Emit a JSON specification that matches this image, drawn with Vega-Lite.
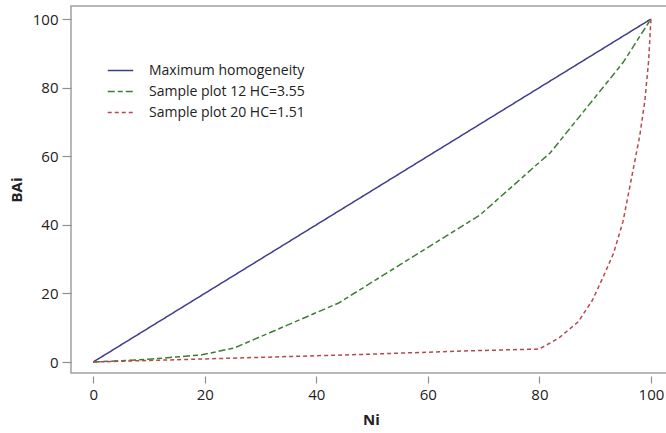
{
  "$schema": "https://vega.github.io/schema/vega-lite/v6.json",
  "width": 600,
  "height": 367,
  "autosize": {"type": "none"},
  "padding": {"left": 71, "top": 6, "right": 0, "bottom": 60},
  "background": "white",
  "config": {
    "view": {"stroke": "#a0a0a0", "strokeWidth": 1.5},
    "font": "Open Sans",
    "axis": {"labelFont": "Open Sans", "titleFont": "Open Sans", "labelColor": "#222", "titleColor": "#222", "labelFontSize": 15, "titleFontSize": 15, "titleFontWeight": "bold", "grid": false, "domain": false, "tickColor": "#909090", "tickWidth": 1.2}
  },
  "data": {
    "values": [
      {"series": "Maximum homogeneity", "Ni": 0, "BAi": 0},
      {"series": "Maximum homogeneity", "Ni": 100, "BAi": 100},
      {"series": "Sample plot 12 HC=3.55", "Ni": 0, "BAi": 0},
      {"series": "Sample plot 12 HC=3.55", "Ni": 10, "BAi": 0.8},
      {"series": "Sample plot 12 HC=3.55", "Ni": 19.5, "BAi": 2.1},
      {"series": "Sample plot 12 HC=3.55", "Ni": 25.3, "BAi": 4.1},
      {"series": "Sample plot 12 HC=3.55", "Ni": 44, "BAi": 17.2},
      {"series": "Sample plot 12 HC=3.55", "Ni": 69.3, "BAi": 42.8},
      {"series": "Sample plot 12 HC=3.55", "Ni": 82, "BAi": 61.1},
      {"series": "Sample plot 12 HC=3.55", "Ni": 95, "BAi": 87.3},
      {"series": "Sample plot 12 HC=3.55", "Ni": 100, "BAi": 100},
      {"series": "Sample plot 20 HC=1.51", "Ni": 0, "BAi": 0},
      {"series": "Sample plot 20 HC=1.51", "Ni": 20, "BAi": 0.9},
      {"series": "Sample plot 20 HC=1.51", "Ni": 48, "BAi": 2.2},
      {"series": "Sample plot 20 HC=1.51", "Ni": 66, "BAi": 3.2},
      {"series": "Sample plot 20 HC=1.51", "Ni": 80, "BAi": 3.8},
      {"series": "Sample plot 20 HC=1.51", "Ni": 83.5, "BAi": 7},
      {"series": "Sample plot 20 HC=1.51", "Ni": 87, "BAi": 11.8},
      {"series": "Sample plot 20 HC=1.51", "Ni": 89.5, "BAi": 18},
      {"series": "Sample plot 20 HC=1.51", "Ni": 91.5, "BAi": 25},
      {"series": "Sample plot 20 HC=1.51", "Ni": 93.3, "BAi": 31.7},
      {"series": "Sample plot 20 HC=1.51", "Ni": 95, "BAi": 41},
      {"series": "Sample plot 20 HC=1.51", "Ni": 96.8, "BAi": 56},
      {"series": "Sample plot 20 HC=1.51", "Ni": 98, "BAi": 66},
      {"series": "Sample plot 20 HC=1.51", "Ni": 98.9, "BAi": 76},
      {"series": "Sample plot 20 HC=1.51", "Ni": 99.6, "BAi": 88},
      {"series": "Sample plot 20 HC=1.51", "Ni": 100, "BAi": 100}
    ]
  },
  "mark": {"type": "line", "strokeWidth": 1.5},
  "encoding": {
    "x": {"field": "Ni", "type": "quantitative", "scale": {"domain": [-3.98, 103.6], "nice": false, "zero": false}, "axis": {"values": [0, 20, 40, 60, 80, 100], "title": "Ni", "offset": 3, "tickSize": 7, "labelPadding": 4, "titlePadding": 10}},
    "y": {"field": "BAi", "type": "quantitative", "scale": {"domain": [-3.2, 103.8], "nice": false, "zero": false}, "axis": {"values": [0, 20, 40, 60, 80, 100], "title": "BAi", "tickSize": 9, "labelPadding": 4, "titlePadding": 8}},
    "color": {"field": "series", "type": "nominal", "scale": {"domain": ["Maximum homogeneity", "Sample plot 12 HC=3.55", "Sample plot 20 HC=1.51"], "range": ["#3f3d8c", "#3d7d33", "#b8494b"]}, "legend": {"orient": "none", "legendX": 36, "legendY": 51, "title": null, "labelFontSize": 14, "labelColor": "#222", "symbolType": "stroke", "symbolSize": 650, "symbolStrokeWidth": 1.5, "labelOffset": 15, "rowPadding": -0.5, "labelFont": "Open Sans"}},
    "strokeDash": {"field": "series", "type": "nominal", "scale": {"domain": ["Maximum homogeneity", "Sample plot 12 HC=3.55", "Sample plot 20 HC=1.51"], "range": [[1, 0], [7, 3, 5, 3], [4, 3]]}, "legend": null}
  }
}
